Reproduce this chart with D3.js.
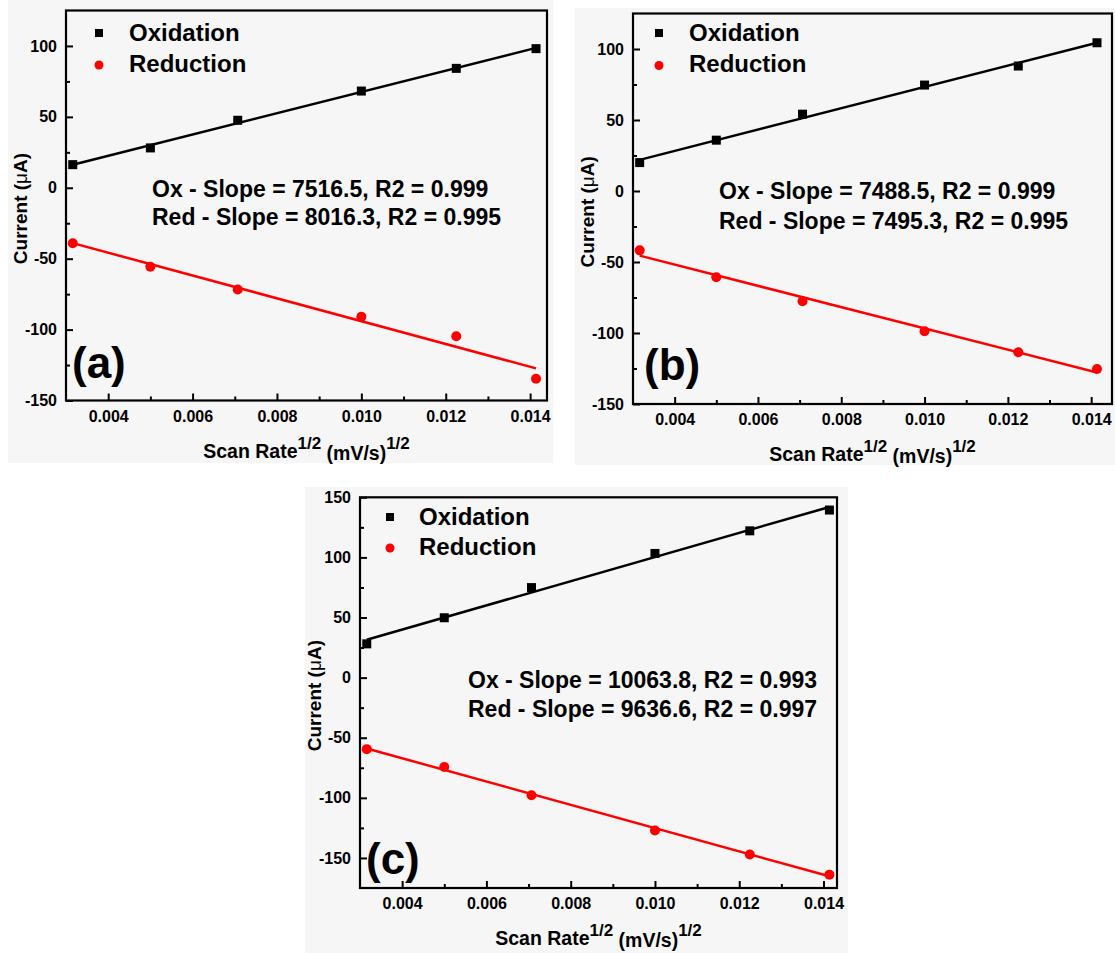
<!DOCTYPE html>
<html>
<head>
<meta charset="utf-8">
<script src="https://cdn.jsdelivr.net/npm/d3@7"></script>
<style>
  body { margin: 0; background: #fff; }
  text { font-family: "Liberation Sans", Arial, sans-serif; font-weight: bold; fill: #000; }
</style>
</head>
<body>
<div id="chart"></div>
<script>
// scan rate^1/2 values, same for all three panels
const scanRateSqrt = [0.00316, 0.005, 0.00707, 0.01, 0.01225, 0.01414]

// panel (a)
const oxA  = [16.3, 28.1, 47.6, 68.2, 84.2, 98.1]
const redA = [-39.1, -55.7, -71.7, -91.0, -104.7, -134.7]
const noteA = ["Ox - Slope = 7516.5, R2 = 0.999", "Red - Slope = 8016.3, R2 = 0.995"]

// panel (b)
const oxB  = [20.0, 35.8, 54.1, 74.6, 88.0, 104.4]
const redB = [-41.8, -60.7, -77.6, -98.8, -113.6, -125.3]
const noteB = ["Ox - Slope = 7488.5, R2 = 0.999", "Red - Slope = 7495.3, R2 = 0.995"]

// panel (c)
const oxC  = [28.1, 49.8, 74.9, 103.3, 122.1, 139.4]
const redC = [-59.5, -74.3, -97.9, -127.1, -147.2, -163.9]
const noteC = ["Ox - Slope = 10063.8, R2 = 0.993", "Red - Slope = 9636.6, R2 = 0.997"]

const seriesNames = ["Oxidation", "Reduction"]
const xTicks = [0.004, 0.006, 0.008, 0.010, 0.012, 0.014]
const xMinor = [0.005, 0.007, 0.009, 0.011, 0.013]
const yTicksAB = [-150, -100, -50, 0, 50, 100]
const yMinorAB = [-125, -75, -25, 25, 75]
const yTicksC = [-150, -100, -50, 0, 50, 100, 150]
const yMinorC = [-125, -75, -25, 25, 75, 125]

const W = 1115, H = 953

// layout of each panel (pixels)
const panels = [
  { tag: "(a)", ox: oxA, red: redA, note: noteA, xDom: [0.003, 0.0144], yDom: [-150, 125],
    yTicks: yTicksAB, yMinor: yMinorAB,
    frame: {l: 66, r: 547, t: 10.5, b: 400.5}, bg: [8, 0, 545, 463],
    leg: {mx: 99, tx: 129, y1: 33, y2: 65}, note_at: {x: 152, y1: 197, y2: 225}, label: {x: 72, y: 378} },
  { tag: "(b)", ox: oxB, red: redB, note: noteB, xDom: [0.003, 0.0145], yDom: [-150, 125],
    yTicks: yTicksAB, yMinor: yMinorAB,
    frame: {l: 633, r: 1112, t: 13.5, b: 404}, bg: [575, 8, 540, 457],
    leg: {mx: 659, tx: 689, y1: 33, y2: 65.5}, note_at: {x: 719, y1: 199, y2: 229}, label: {x: 644, y: 380} },
  { tag: "(c)", ox: oxC, red: redC, note: noteC, xDom: [0.003, 0.01432], yDom: [-175, 150],
    yTicks: yTicksC, yMinor: yMinorC,
    frame: {l: 360, r: 837, t: 497.3, b: 888}, bg: [305, 487, 543, 466],
    leg: {mx: 390, tx: 419, y1: 517, y2: 548}, note_at: {x: 468, y1: 688, y2: 717}, label: {x: 366, y: 874} }
]

// least squares fit
function linfit(xs, ys){
  const mx = d3.mean(xs), my = d3.mean(ys)
  let num = 0, den = 0
  xs.forEach((x, i) => { num += (x - mx) * (ys[i] - my); den += (x - mx) * (x - mx) })
  const m = num / den
  return x => my + m * (x - mx)
}

const svg = d3.select("#chart").append("svg")
  .attr("width", W)
  .attr("height", H)

panels.forEach(p => {
  const f = p.frame
  const x = d3.scaleLinear().domain(p.xDom).range([f.l, f.r])
  const y = d3.scaleLinear().domain(p.yDom).range([f.b, f.t])
  const g = svg.append("g")

  g.append("rect")
    .attr("x", p.bg[0]).attr("y", p.bg[1]).attr("width", p.bg[2]).attr("height", p.bg[3])
    .attr("fill", "#f6f6f6")

  // axes, ticks inside
  g.append("g").attr("transform", `translate(0,${f.b})`)
    .call(d3.axisBottom(x).tickValues(xTicks).tickFormat(d => d.toFixed(3)).tickSize(-7).tickSizeOuter(0).tickPadding(10))
  g.append("g").attr("transform", `translate(0,${f.b})`)
    .call(d3.axisBottom(x).tickValues(xMinor).tickFormat("").tickSize(-4).tickSizeOuter(0))
  g.append("g").attr("transform", `translate(${f.l},0)`)
    .call(d3.axisLeft(y).tickValues(p.yTicks).tickFormat(d => String(d)).tickSize(-7).tickSizeOuter(0).tickPadding(9))
  g.append("g").attr("transform", `translate(${f.l},0)`)
    .call(d3.axisLeft(y).tickValues(p.yMinor).tickFormat("").tickSize(-4).tickSizeOuter(0))

  g.selectAll(".domain").remove()
  g.selectAll(".tick line").attr("stroke", "#000").attr("stroke-width", 2)
  g.selectAll(".tick text").style("font-size", "16px").style("font-weight", "bold")
    .style("font-family", '"Liberation Sans", Arial, sans-serif').attr("fill", "#000")

  g.append("rect")
    .attr("x", f.l).attr("y", f.t).attr("width", f.r - f.l).attr("height", f.b - f.t)
    .attr("fill", "none").attr("stroke", "#000").attr("stroke-width", 2.2)

  // fit lines and points
  const series = [
    {vals: p.ox, color: "#000", shape: "square"},
    {vals: p.red, color: "#ff0000", shape: "circle"}
  ]
  series.forEach(s => {
    const fit = linfit(scanRateSqrt, s.vals)
    const ends = [scanRateSqrt[0], scanRateSqrt[scanRateSqrt.length - 1]]
    g.append("path")
      .attr("d", d3.line().x(d => x(d)).y(d => y(fit(d)))(ends))
      .attr("stroke", s.color).attr("stroke-width", 2.5).attr("fill", "none")

    const pts = g.selectAll(null).data(scanRateSqrt.map((v, i) => [v, s.vals[i]])).enter()
    if (s.shape === "square") {
      pts.append("rect")
        .attr("x", d => x(d[0]) - 4.5).attr("y", d => y(d[1]) - 4.5)
        .attr("width", 9).attr("height", 9).attr("fill", s.color)
    } else {
      pts.append("circle")
        .attr("cx", d => x(d[0])).attr("cy", d => y(d[1])).attr("r", 5)
        .attr("fill", s.color)
    }
  })

  // legend
  g.append("rect").attr("x", p.leg.mx - 4).attr("y", p.leg.y1 - 4).attr("width", 8).attr("height", 8).attr("fill", "#000")
  g.append("circle").attr("cx", p.leg.mx).attr("cy", p.leg.y2).attr("r", 4.5).attr("fill", "#ff0000")
  g.append("text").attr("x", p.leg.tx).attr("y", p.leg.y1 + 7.5).style("font-size", "24px").text(seriesNames[0])
  g.append("text").attr("x", p.leg.tx).attr("y", p.leg.y2 + 6.5).style("font-size", "24px").text(seriesNames[1])

  // fit annotation
  g.append("text").attr("x", p.note_at.x).attr("y", p.note_at.y1).style("font-size", "23px").text(p.note[0])
  g.append("text").attr("x", p.note_at.x).attr("y", p.note_at.y2).style("font-size", "23px").text(p.note[1])

  // panel tag
  g.append("text").attr("x", p.label.x).attr("y", p.label.y).style("font-size", "44px").text(p.tag)

  // axis titles
  const yt = g.append("text")
    .attr("transform", `translate(${f.l - 39},${(f.t + f.b) / 2 + 3}) rotate(-90)`)
    .attr("text-anchor", "middle").style("font-size", "19px")
  yt.append("tspan").text("Current (")
  yt.append("tspan").style("font-weight", "normal").text("\u03bc")
  yt.append("tspan").text("A)")

  const xt = g.append("text")
    .attr("x", (f.l + f.r) / 2).attr("y", f.b + 57)
    .attr("text-anchor", "middle").style("font-size", "19.5px")
  xt.append("tspan").text("Scan Rate")
  xt.append("tspan").attr("dy", -9).style("font-size", "17px").text("1/2")
  xt.append("tspan").attr("dy", 11).style("font-size", "19.5px").text("  (mV/s)")
  xt.append("tspan").attr("dy", -11).style("font-size", "17px").text("1/2")
})
</script>
</body>
</html>
